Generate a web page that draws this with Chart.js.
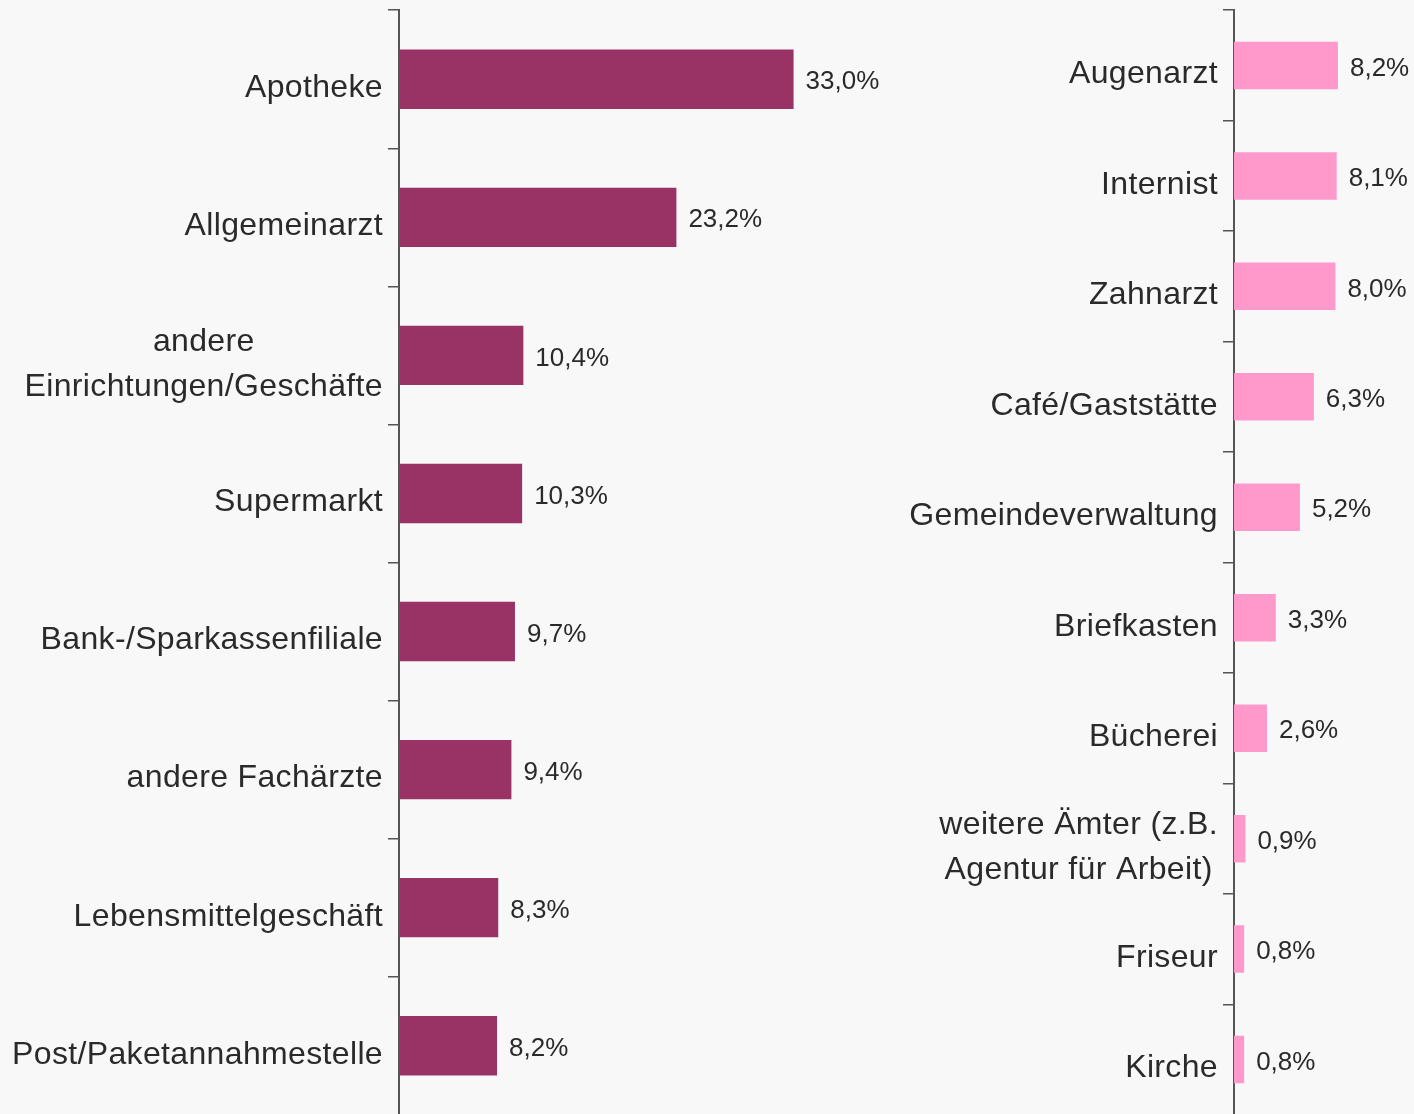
<!DOCTYPE html>
<html>
<head>
<meta charset="utf-8">
<script src="https://cdn.jsdelivr.net/npm/chart.js@4"></script>
<style>
  html, body { margin: 0; padding: 0; background: #f8f8f8; overflow: hidden; }
  #leftBox { position: absolute; left: 0; top: 0; width: 900px; height: 1125px; }
  #rightBox { position: absolute; left: 880px; top: 0; width: 534px; height: 1125px; }
</style>
</head>
<body>
<div id="leftBox"><canvas id="leftChart"></canvas></div>
<div id="rightBox"><canvas id="rightChart"></canvas></div>
<script>
const leftLabels = [
  "Apotheke",
  "Allgemeinarzt",
  ["andere", "Einrichtungen/Geschäfte"],
  "Supermarkt",
  "Bank-/Sparkassenfiliale",
  "andere Fachärzte",
  "Lebensmittelgeschäft",
  "Post/Paketannahmestelle",
];
const leftValues = [33.0, 23.2, 10.4, 10.3, 9.7, 9.4, 8.3, 8.2];

const rightLabels = [
  "Augenarzt",
  "Internist",
  "Zahnarzt",
  "Café/Gaststätte",
  "Gemeindeverwaltung",
  "Briefkasten",
  "Bücherei",
  ["weitere Ämter (z.B.", "Agentur für Arbeit)"],
  "Friseur",
  "Kirche",
];
const rightValues = [8.2, 8.1, 8.0, 6.3, 5.2, 3.3, 2.6, 0.9, 0.8, 0.8];

const textColor = "#2a2a2a";
const fontFamily = "'Liberation Sans', Arial, sans-serif";

function fmt(v) {
  return v.toFixed(1).replace(".", ",") + "%";
}

// draws category labels (lines centered to each other, block right-aligned) and value labels
const labelPlugin = {
  id: "labelPlugin",
  afterDraw(chart) {
    const ctx = chart.ctx;
    const yScale = chart.scales.y;
    const left = chart.chartArea.left;
    ctx.save();
    ctx.fillStyle = textColor;
    ctx.textBaseline = "middle";
    ctx.letterSpacing = "0.35px";

    ctx.font = "32px " + fontFamily;
    chart.data.labels.forEach((lab, i) => {
      const lines = Array.isArray(lab) ? lab : [lab];
      const y = yScale.getPixelForTick(i) + 9;
      const xRight = left - 16;
      const widest = Math.max(...lines.map((l) => ctx.measureText(l).width));
      const lineH = 45;
      const y0 = y - ((lines.length - 1) * lineH) / 2;
      lines.forEach((line, k) => {
        if (lines.length > 1) {
          ctx.textAlign = "center";
          ctx.fillText(line, xRight - widest / 2, y0 + k * lineH);
        } else {
          ctx.textAlign = "right";
          ctx.fillText(line, xRight, y0);
        }
      });
    });

    ctx.letterSpacing = "0px";
    ctx.font = "26px " + fontFamily;
    ctx.textAlign = "left";
    const meta = chart.getDatasetMeta(0);
    meta.data.forEach((bar, i) => {
      ctx.fillText(fmt(chart.data.datasets[0].data[i]), bar.x + 12, bar.y + 3);
    });
    ctx.restore();
  },
};

function makeChart(id, labels, values, color, xMax, axisWidth) {
  return new Chart(document.getElementById(id), {
    type: "bar",
    data: {
      labels: labels,
      datasets: [
        {
          data: values,
          backgroundColor: color,
          categoryPercentage: 1,
          barPercentage: 0.43,
        },
      ],
    },
    options: {
      indexAxis: "y",
      responsive: true,
      maintainAspectRatio: false,
      animation: false,
      layout: { padding: { top: 10, bottom: 10, left: 0, right: 0 } },
      plugins: { legend: { display: false }, tooltip: { enabled: false } },
      scales: {
        x: { display: false, min: 0, max: xMax },
        y: {
          afterFit: (scale) => {
            scale.width = axisWidth;
          },
          grid: {
            offset: true,
            drawOnChartArea: false,
            drawTicks: true,
            tickLength: 11,
            color: "#555",
            lineWidth: 1.5,
          },
          border: { color: "#555", width: 2 },
          ticks: { callback: () => "" },
        },
      },
    },
    plugins: [labelPlugin],
  });
}

makeChart("leftChart", leftLabels, leftValues, "#993366", 41.9, 399);
makeChart("rightChart", rightLabels, rightValues, "#ff99cc", 14.2, 354);
</script>
</body>
</html>
